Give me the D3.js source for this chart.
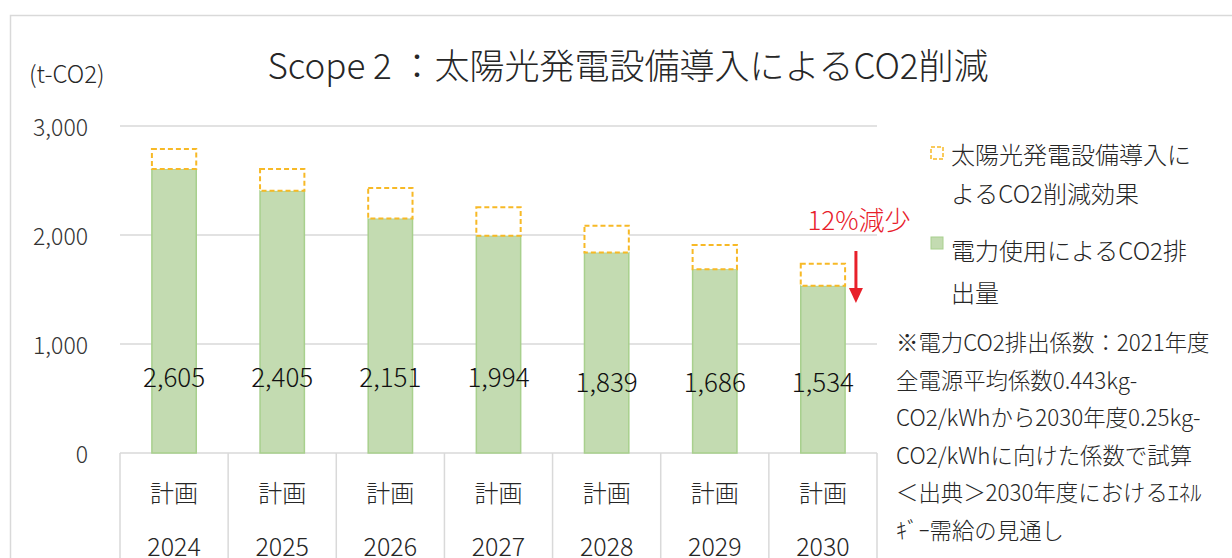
<!DOCTYPE html>
<html>
<head>
<meta charset="utf-8">
<script src="https://cdn.jsdelivr.net/npm/d3@7"></script>
<style>
  html, body { margin: 0; padding: 0; background: #fff; }
  svg { display: block; }
  text { font-family: "Noto Sans CJK JP", "Noto Sans", sans-serif; font-weight: 300; fill: #262626; }
</style>
</head>
<body>
<svg id="chart" width="1232" height="558"></svg>
<script>
// ---- data ----
const years = ["2024", "2025", "2026", "2027", "2028", "2029", "2030"];
const planLabels = ["計画", "計画", "計画", "計画", "計画", "計画", "計画"];
const emissions = [2605, 2405, 2151, 1994, 1839, 1686, 1534];
const solarReduction = [185, 200, 280, 260, 245, 222, 203];
const yTicks = [0, 1000, 2000, 3000];
const title = "Scope 2 ：太陽光発電設備導入によるCO2削減";
const unitLabel = "(t-CO2)";
const legendSolar = ["太陽光発電設備導入に", "よるCO2削減効果"];
const legendPower = ["電力使用によるCO2排", "出量"];
const noteLines = [
  "※電力CO2排出係数：2021年度",
  "全電源平均係数0.443kg-",
  "CO2/kWhから2030年度0.25kg-",
  "CO2/kWhに向けた係数で試算",
  "＜出典＞2030年度におけるｴﾈﾙ",
  "ｷﾞｰ需給の見通し"
];
const reductionNote = "12%減少";

// ---- layout ----
const svg = d3.select("#chart");
const plotLeft = 120, plotRight = 877, plotTop = 126, plotBottom = 453;
const green = "#c3dbb1", greenStroke = "#a8d08d", gold = "#f7b926", grid = "#d9d9d9";

// outer frame
svg.append("rect").attr("x", 10.5).attr("y", 15.5).attr("width", 1240).attr("height", 600)
  .attr("fill", "none").attr("stroke", grid).attr("stroke-width", 1.5);

const x = d3.scaleBand().domain(years).range([plotLeft, plotRight]).paddingInner(0).paddingOuter(0);
const y = d3.scaleLinear().domain([0, 3000]).range([plotBottom, plotTop]);
const barW = x.bandwidth() * 0.41;

// gridlines
svg.append("g").selectAll("line").data(yTicks).join("line")
  .attr("x1", plotLeft).attr("x2", plotRight)
  .attr("y1", d => y(d)).attr("y2", d => y(d))
  .attr("stroke", grid).attr("stroke-width", 1.5);

// y tick labels
svg.append("g").selectAll("text").data(yTicks).join("text")
  .attr("x", 88).attr("y", d => y(d))
  .attr("text-anchor", "end").attr("dominant-baseline", "central")
  .attr("font-size", 23).style("fill", "#333")
  .text(d => d3.format(",")(d));

// unit label
svg.append("text").attr("x", 29).attr("y", 72).attr("dominant-baseline", "central")
  .attr("font-size", 24).text(unitLabel);

// category table lines
const bounds = years.map(d => x(d)).concat([plotRight]);
svg.append("g").selectAll("line").data(bounds).join("line")
  .attr("x1", d => d).attr("x2", d => d)
  .attr("y1", plotBottom).attr("y2", 570)
  .attr("stroke", grid).attr("stroke-width", 1.5);

// green bars
svg.append("g").selectAll("rect").data(emissions).join("rect")
  .attr("x", (d, i) => x(years[i]) + (x.bandwidth() - barW) / 2)
  .attr("y", d => y(d))
  .attr("width", barW)
  .attr("height", d => y(0) - y(d))
  .attr("fill", green).attr("stroke", greenStroke).attr("stroke-width", 1.5);

// dashed reduction bars
svg.append("g").selectAll("rect").data(solarReduction).join("rect")
  .attr("x", (d, i) => x(years[i]) + (x.bandwidth() - barW) / 2)
  .attr("y", (d, i) => y(emissions[i] + d))
  .attr("width", barW)
  .attr("height", (d, i) => y(emissions[i]) - y(emissions[i] + d))
  .attr("fill", "#fff").attr("stroke", gold).attr("stroke-width", 2)
  .attr("stroke-dasharray", "5,3");

// data labels
svg.append("g").selectAll("text").data(emissions).join("text")
  .attr("x", (d, i) => x(years[i]) + x.bandwidth() / 2)
  .attr("y", (d, i) => i < 4 ? y(715) : y(662))
  .attr("text-anchor", "middle").attr("dominant-baseline", "central")
  .attr("font-size", 26).style("fill", "#111")
  .text(d => d3.format(",")(d));

// category labels
svg.append("g").selectAll("text").data(planLabels).join("text")
  .attr("x", (d, i) => x(years[i]) + x.bandwidth() / 2)
  .attr("y", 491).attr("text-anchor", "middle").attr("dominant-baseline", "central")
  .attr("font-size", 24).text(d => d);
svg.append("g").selectAll("text").data(years).join("text")
  .attr("x", d => x(d) + x.bandwidth() / 2)
  .attr("y", 545).attr("text-anchor", "middle").attr("dominant-baseline", "central")
  .attr("font-size", 25).text(d => d);

// title
svg.append("text").attr("x", 628).attr("y", 63)
  .attr("text-anchor", "middle").attr("dominant-baseline", "central")
  .attr("font-size", 35).text(title);

// legend
const lg = svg.append("g");
lg.append("rect").attr("x", 931).attr("y", 147).attr("width", 12).attr("height", 12)
  .attr("fill", "#fff").attr("stroke", gold).attr("stroke-width", 1.5).attr("stroke-dasharray", "4,2");
lg.selectAll("text.s").data(legendSolar).join("text").attr("class", "s")
  .attr("x", 951).attr("y", (d, i) => 153 + i * 39).attr("dominant-baseline", "central")
  .attr("font-size", 24).text(d => d);
lg.append("rect").attr("x", 931).attr("y", 237).attr("width", 12).attr("height", 12)
  .attr("fill", green).attr("stroke", greenStroke).attr("stroke-width", 1);
lg.selectAll("text.p").data(legendPower).join("text").attr("class", "p")
  .attr("x", 951).attr("y", (d, i) => 249 + i * 42).attr("dominant-baseline", "central")
  .attr("font-size", 24).text(d => d);

// note
svg.append("g").selectAll("text").data(noteLines).join("text")
  .attr("x", 896).attr("y", (d, i) => 341 + i * 37.5).attr("dominant-baseline", "central")
  .attr("font-size", 22.4).text(d => d);

// reduction annotation
svg.append("text").attr("x", 859).attr("y", 218).attr("text-anchor", "middle")
  .attr("dominant-baseline", "central").attr("font-size", 26).style("fill", "#e8202a")
  .text(reductionNote);
const arrowX = x("2030") + x.bandwidth() / 2 + 33;
svg.append("line").attr("x1", arrowX).attr("x2", arrowX).attr("y1", 251).attr("y2", 290)
  .attr("stroke", "#e8202a").attr("stroke-width", 3);
svg.append("path")
  .attr("d", `M${arrowX - 7},288 L${arrowX + 7},288 L${arrowX},303 Z`)
  .attr("fill", "#e8202a");
</script>
</body>
</html>
